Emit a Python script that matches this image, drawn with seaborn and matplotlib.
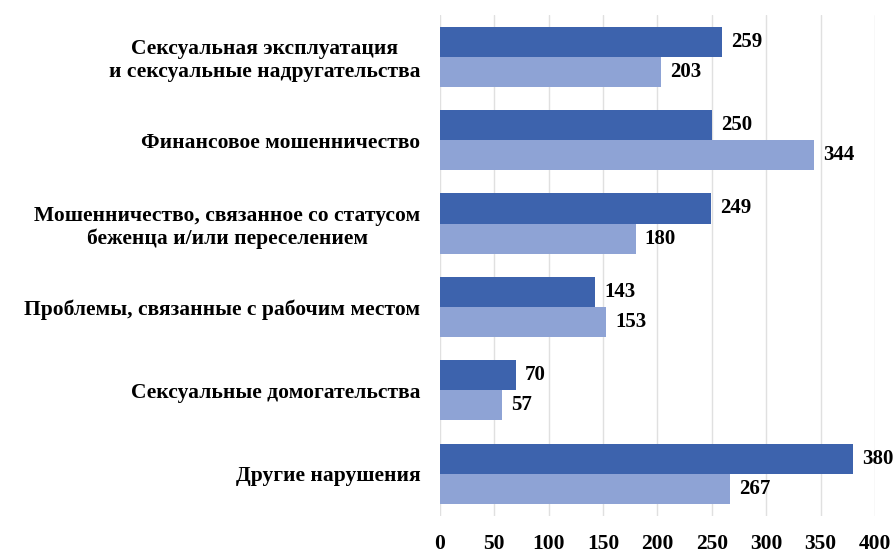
import pandas as pd
import matplotlib.pyplot as plt
import seaborn as sns

# categories (top to bottom) and the two series
categories = ['Сексуальная эксплуатация\nи сексуальные надругательства',
              'Финансовое мошенничество',
              'Мошенничество, связанное со статусом\nбеженца и/или переселением',
              'Проблемы, связанные с рабочим местом',
              'Сексуальные домогательства',
              'Другие нарушения']
series_names = ['Серия 1', 'Серия 2']
values_1 = [259, 250, 249, 143, 70, 380]
values_2 = [203, 344, 180, 153, 57, 267]
x_ticks = [0, 50, 100, 150, 200, 250, 300, 350, 400]

df = pd.DataFrame({
    'category': categories * 2,
    'series': [series_names[0]] * len(categories) + [series_names[1]] * len(categories),
    'value': values_1 + values_2,
})

sns.set_style('white')
plt.rcParams['font.family'] = ['Liberation Serif', 'DejaVu Serif']
plt.rcParams['text.color'] = 'black'
plt.rcParams['xtick.color'] = 'black'
plt.rcParams['ytick.color'] = 'black'

fig = plt.figure(figsize=(8.95, 5.52), dpi=100)
ax = fig.add_axes([0.4916, 0.066, 0.4860, 0.907])

sns.barplot(data=df, y='category', x='value', hue='series',
            palette=['#3D63AD', '#8EA3D5'], width=0.72, legend=False,
            saturation=1, linewidth=0, ax=ax)

for c in ax.containers:
    ax.bar_label(c, padding=6.5, fontsize=15, fontweight='bold')

ax.set_xlim(0, 400)
ax.set_xticks(x_ticks)
ax.grid(axis='x', color='#e0e0e0', linewidth=1)
ax.set_axisbelow(True)
for s in ax.spines.values():
    s.set_visible(False)
ax.set_xlabel('')
ax.set_ylabel('')
ax.tick_params(axis='x', length=0, pad=13, labelsize=15.5)
ax.tick_params(axis='y', length=0, pad=14, labelsize=15.5)
for t in ax.get_xticklabels() + ax.get_yticklabels():
    t.set_fontweight('bold')
for t in ax.get_yticklabels():
    t.set_multialignment('center')

fig.savefig('out.png', dpi=100)
